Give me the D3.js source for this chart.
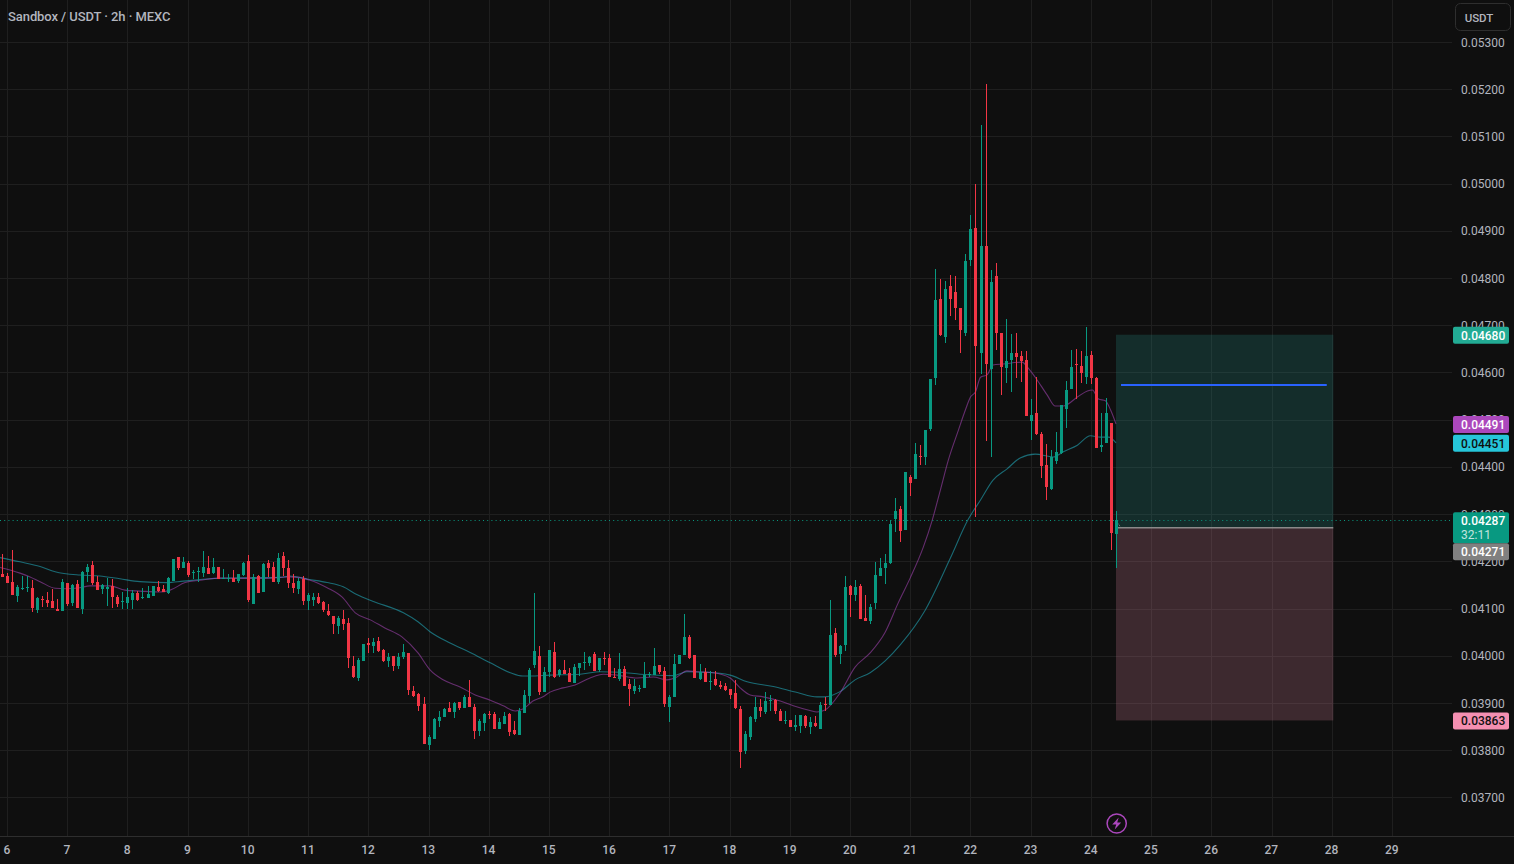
<!DOCTYPE html>
<html><head><meta charset="utf-8">
<style>html,body{margin:0;padding:0;background:#0f0f0f;overflow:hidden}svg{display:block}text{font-family:Roboto,sans-serif}</style>
<script src="https://cdn.jsdelivr.net/npm/d3@7"></script>
</head><body><svg id="c" width="1514" height="864"></svg>
<script>
// prices are in units of 0.00001 USDT
const title = "Sandbox / USDT · 2h · MEXC";
const dayTicks = d3.range(6, 30);
const priceTicks = d3.range(3700, 5301, 100);
const firstCandleDay = 6 - 1/12;
// [open, high, low, close]
const ohlc = [
[4173,4216,4166,4166],[4169,4175,4154,4154],[4156,4224,4129,4129],[4127,4150,4114,4146],[4141,4169,4139,4143],[4144,4168,4135,4146],[4144,4161,4093,4101],[4097,4124,4091,4122],[4120,4127,4103,4118],[4118,4135,4103,4112],
[4116,4141,4101,4101],[4099,4120,4095,4095],[4095,4163,4095,4156],[4154,4154,4106,4110],[4112,4152,4106,4150],[4152,4161,4101,4101],[4099,4180,4089,4178],[4178,4194,4156,4188],[4192,4201,4150,4154],[4156,4169,4139,4139],
[4141,4152,4131,4150],[4141,4165,4106,4146],[4148,4163,4101,4125],[4125,4129,4103,4110],[4115,4135,4099,4116],[4112,4144,4099,4125],[4118,4139,4099,4133],[4133,4137,4117,4118],[4122,4144,4121,4125],[4122,4148,4122,4131],
[4127,4148,4127,4148],[4146,4158,4135,4137],[4141,4150,4135,4135],[4133,4167,4131,4165],[4158,4205,4158,4205],[4209,4209,4182,4186],[4186,4209,4186,4199],[4197,4201,4167,4171],[4175,4182,4163,4178],[4178,4188,4156,4180],
[4175,4222,4167,4188],[4186,4211,4173,4173],[4175,4207,4173,4188],[4188,4188,4163,4163],[4163,4184,4163,4165],[4163,4173,4156,4165],[4165,4182,4156,4156],[4158,4173,4154,4173],[4171,4199,4169,4197],[4201,4214,4114,4118],
[4110,4173,4110,4167],[4169,4171,4133,4133],[4135,4197,4135,4194],[4197,4203,4167,4186],[4188,4199,4156,4156],[4156,4218,4152,4207],[4211,4220,4169,4186],[4186,4203,4144,4154],[4154,4173,4133,4144],[4142,4165,4131,4159],
[4163,4169,4108,4116],[4116,4133,4097,4129],[4118,4133,4106,4125],[4125,4133,4110,4112],[4114,4116,4093,4097],[4095,4110,4084,4086],[4084,4084,4046,4067],[4063,4084,4046,4080],[4078,4097,4055,4067],[4070,4080,3974,3995],
[3978,3999,3953,3955],[3953,3995,3947,3991],[3989,4025,3989,4025],[4027,4038,4006,4023],[4021,4038,4006,4029],[4031,4040,4008,4010],[4012,4014,3987,3989],[3989,4006,3976,3998],[4000,4000,3968,3978],[3978,4006,3972,3998],
[3998,4025,3993,4008],[4006,4006,3917,3928],[3926,3936,3913,3915],[3919,3921,3883,3894],[3898,3913,3813,3813],[3811,3832,3801,3828],[3824,3868,3824,3866],[3862,3883,3849,3870],[3870,3889,3870,3887],[3889,3902,3881,3881],
[3881,3902,3868,3900],[3902,3902,3885,3889],[3889,3917,3889,3913],[3913,3949,3892,3892],[3892,3898,3824,3841],[3841,3866,3830,3862],[3858,3879,3841,3877],[3877,3883,3866,3875],[3877,3881,3845,3845],[3845,3868,3845,3860],
[3856,3881,3856,3873],[3877,3879,3830,3839],[3843,3862,3832,3834],[3832,3889,3832,3883],[3879,3928,3879,3917],[3915,3974,3900,3970],[3981,4133,3974,4010],[4000,4021,3917,3923],[3923,3976,3923,3966],[3966,4012,3955,4012],
[4008,4029,3953,3955],[3959,3972,3955,3970],[3970,3991,3961,3961],[3964,3974,3945,3945],[3942,3983,3942,3976],[3974,3985,3957,3985],[3985,4008,3970,3987],[3985,4000,3978,3997],[4004,4008,3968,3968],[3970,3995,3966,3995],
[3995,4008,3981,3993],[3995,4004,3955,3955],[3955,3974,3953,3953],[3951,4006,3947,3972],[3972,3978,3936,3936],[3940,3951,3894,3930],[3925,3951,3919,3936],[3930,3938,3923,3932],[3932,3987,3932,3959],[3959,3966,3955,3961],
[3959,4017,3959,3978],[3981,3981,3961,3966],[3968,3976,3892,3898],[3892,3917,3860,3913],[3913,4004,3913,3983],[3983,4002,3983,4002],[4002,4089,4002,4040],[4040,4044,3993,3995],[4002,4002,3953,3953],[3951,3983,3949,3966],
[3966,3974,3945,3945],[3945,3968,3928,3947],[3951,3968,3936,3938],[3938,3947,3930,3934],[3936,3942,3925,3928],[3930,3930,3909,3917],[3921,3949,3887,3889],[3887,3894,3762,3796],[3798,3841,3792,3834],[3828,3873,3822,3870],
[3866,3913,3860,3892],[3892,3909,3870,3883],[3881,3923,3877,3904],[3904,3917,3883,3906],[3906,3909,3877,3883],[3883,3887,3862,3862],[3862,3883,3856,3864],[3864,3864,3849,3849],[3849,3875,3841,3853],[3851,3875,3837,3875],
[3873,3875,3847,3851],[3849,3870,3834,3860],[3858,3873,3849,3851],[3845,3902,3845,3896],[3898,3913,3883,3896],[3896,4118,3896,4044],[4048,4059,3997,4002],[4004,4023,3983,4021],[4023,4169,4010,4146],[4148,4150,4082,4129],
[4129,4161,4116,4146],[4148,4152,4078,4078],[4080,4129,4074,4074],[4074,4110,4067,4103],[4112,4199,4099,4171],[4169,4207,4169,4186],[4186,4216,4152,4197],[4197,4288,4195,4279],[4290,4334,4262,4307],[4311,4317,4241,4264],
[4266,4389,4266,4389],[4379,4383,4339,4366],[4374,4451,4374,4427],[4423,4447,4404,4421],[4421,4478,4404,4478],[4480,4586,4476,4586],[4588,4819,4573,4754],[4756,4798,4677,4679],[4675,4794,4662,4777],[4783,4806,4720,4756],
[4770,4804,4711,4737],[4737,4737,4641,4690],[4684,4851,4677,4836],[4838,4933,4825,4904],[4906,4999,4294,4656],[4641,5124,4597,4868],[4868,5211,4455,4618],[4607,4817,4421,4792],[4804,4832,4648,4684],[4684,4684,4552,4612],
[4609,4713,4578,4624],[4626,4681,4559,4641],[4641,4684,4588,4633],[4635,4645,4580,4624],[4627,4646,4508,4508],[4497,4544,4457,4510],[4514,4591,4468,4470],[4470,4474,4377,4402],[4404,4449,4330,4358],[4353,4436,4351,4421],
[4413,4474,4406,4432],[4430,4531,4427,4531],[4523,4582,4483,4563],[4565,4648,4565,4612],[4618,4650,4544,4616],[4614,4646,4578,4599],[4591,4696,4576,4635],[4637,4646,4576,4588],[4588,4591,4440,4440],[4442,4514,4432,4447],
[4451,4546,4451,4514],[4493,4493,4224,4260],[4258,4307,4186,4287]
];
// moving averages: [candle index, price]
const maFast = [[-0.4,4187],[3.6,4175],[5.6,4167],[7.6,4157],[10.6,4143],[12.6,4142],[15.5,4144],[17.5,4148],[21.5,4148],[24.5,4139],[27.5,4137],[31.5,4135],[33.5,4139],[36.5,4155],[39.5,4160],[43.5,4165],[47.4,4164],[52.8,4164],[55.4,4166],[57.4,4167],[61.4,4160],[64.8,4144],[67.8,4124],[70.4,4091],[73.4,4076],[76.3,4059],[79.7,4040],[82.9,4006],[85.3,3970],[87.9,3949],[91.3,3934],[94.3,3917],[97.3,3906],[99.9,3894],[102.3,3883],[103.8,3887],[105.8,3904],[107.8,3913],[109.2,3923],[111.8,3932],[114.2,3938],[117.2,3953],[119.8,3961],[122.6,3959],[126.6,3953],[129.8,3955],[132.5,3949],[134.5,3955],[136.5,3968],[138.5,3966],[141.7,3964],[145.1,3953],[147.1,3932],[149.1,3917],[151.7,3913],[155.1,3904],[157.7,3894],[161,3884],[162.4,3881],[164,3885],[167,3921],[170,3976],[173,4006],[176,4050],[178.6,4112],[181,4165],[183.6,4230],[185.4,4288],[187,4351],[188.6,4415],[190.6,4478],[192,4521],[193,4548],[194,4559],[195,4590],[196.3,4595],[197.5,4616],[199.5,4618],[203.3,4622],[204.3,4612],[205.9,4590],[208.3,4552],[209.9,4529],[211.5,4529],[214.3,4548],[216.3,4561],[217.3,4563],[218.5,4544],[219.9,4540],[220.9,4521],[222,4491]];
const maSlow = [[-0.4,4208],[3.6,4199],[7.6,4189],[10.6,4178],[15.5,4171],[19.5,4169],[23.5,4163],[27.5,4157],[32.9,4155],[36.1,4158],[41.5,4163],[47.4,4165],[55.4,4166],[57.4,4169],[61,4162],[64.8,4155],[68,4146],[70.8,4129],[74,4115],[80,4091],[82.9,4072],[85.3,4051],[89.3,4027],[93.3,4007],[97.3,3985],[101.3,3964],[103.8,3957],[105.2,3957],[109.2,3959],[115.2,3961],[119.2,3966],[123.2,3965],[127.2,3961],[133.7,3958],[136.5,3966],[140.5,3965],[145.1,3959],[148.5,3945],[153.7,3935],[158.5,3922],[162.4,3913],[164,3913],[167,3924],[170,3949],[173,3964],[176,3989],[179,4023],[184,4097],[189,4207],[192.5,4288],[195,4330],[197.5,4372],[200.3,4396],[202.9,4419],[205.9,4427],[209.5,4421],[211.5,4432],[214.3,4446],[216.9,4466],[218.9,4463],[220.5,4463],[222,4451]];
const lastPrice = 4287, countdown = "32:11";
const target = 4680, entry = 4271, stop = 3863, toolLevel = 4573.5;
const toolStart = 222, toolEnd = 265.3, toolLevelStart = 223, toolLevelEnd = 264;
const badges = [
  {v:4680, bg:"#22ab94", fg:"#ffffff"},
  {v:4491, bg:"#ab47bc", fg:"#ffffff"},
  {v:4451, bg:"#26c6da", fg:"#0f0f0f"},
  {v:4287, bg:"#089981", fg:"#ffffff", sub:countdown},
  {v:4271, bg:"#808080", fg:"#ffffff"},
  {v:3863, bg:"#f48fb1", fg:"#0f0f0f"}
];

const W = 1514, H = 864, plotR = 1452, plotB = 836;
const UP = "#089981", DOWN = "#f23645", TXT = "#b2b5be", GRID = "#1f1f1f";
const svg = d3.select("#c");
svg.append("rect").attr("width",W).attr("height",H).attr("fill","#0f0f0f");
const x = d3.scaleLinear().domain([6,29]).range([7,1392]);
const y = d3.scaleLinear().domain([3700,5300]).range([797.4,42]);
const fmt = v => (v/1e5).toFixed(5);
const cx = i => x(firstCandleDay + i/12);

// axes & grid
const gx = svg.append("g").attr("transform",`translate(-0.7,${plotB})`)
  .call(d3.axisBottom(x).tickValues(dayTicks).tickFormat(d3.format("d")).tickSize(0).tickPadding(9));
gx.select(".domain").remove();
gx.selectAll("text").attr("fill",TXT).attr("font-size",12).attr("font-weight",500).style("font-family","Roboto");
const grid = svg.append("g").attr("shape-rendering","crispEdges");
grid.selectAll(".v").data(dayTicks).join("line").attr("x1",d=>Math.round(x(d))+.5).attr("x2",d=>Math.round(x(d))+.5).attr("y1",0).attr("y2",plotB).attr("stroke",GRID);
grid.selectAll(".h").data(priceTicks).join("line").attr("y1",d=>Math.round(y(d))+.5).attr("y2",d=>Math.round(y(d))+.5).attr("x1",0).attr("x2",plotR).attr("stroke",GRID);
svg.append("line").attr("x1",0).attr("x2",W).attr("y1",plotB+.5).attr("y2",plotB+.5).attr("stroke","#2e2e2e").attr("shape-rendering","crispEdges");
const gy = svg.append("g").attr("transform",`translate(${plotR},0.2)`)
  .call(d3.axisRight(y).tickValues(priceTicks).tickFormat(fmt).tickSize(0).tickPadding(9));
gy.select(".domain").remove();
gy.selectAll("text").attr("fill",TXT).attr("font-size",12).style("font-family","Roboto");

// position tool
const tool = svg.append("g");
const tx0 = cx(toolStart), tx1 = cx(toolEnd);
tool.append("rect").attr("x",tx0).attr("width",tx1-tx0).attr("y",y(target)).attr("height",y(entry)-y(target)).attr("fill","#26a69a").attr("fill-opacity",.2);
tool.append("rect").attr("x",tx0).attr("width",tx1-tx0).attr("y",y(entry)).attr("height",y(stop)-y(entry)).attr("fill","#f48fb1").attr("fill-opacity",.2);
tool.append("line").attr("x1",tx0).attr("x2",tx1).attr("y1",y(entry)).attr("y2",y(entry)).attr("stroke","#8a8a8a").attr("stroke-width",1.5);
tool.append("line").attr("x1",cx(toolLevelStart)).attr("x2",cx(toolLevelEnd)).attr("y1",y(toolLevel)).attr("y2",y(toolLevel)).attr("stroke","#2962ff").attr("stroke-width",2);
tool.append("line").attr("x1",tx0).attr("x2",cx(toolStart+1)).attr("y1",y(lastPrice)).attr("y2",y(entry)).attr("stroke","#8a8a8a").attr("stroke-dasharray","1 1");

// moving averages
const line = d3.line().x(d=>cx(d[0])).y(d=>y(d[1])).curve(d3.curveMonotoneX);
svg.append("path").attr("d",line(maSlow)).attr("fill","none").attr("stroke","#26c6da").attr("stroke-opacity",.5).attr("stroke-width",1.1);
svg.append("path").attr("d",line(maFast)).attr("fill","none").attr("stroke","#ab47bc").attr("stroke-opacity",.55).attr("stroke-width",1.1);

// candles
const candles = svg.append("g").attr("shape-rendering","crispEdges");
const col = d => d[3] >= d[0] ? UP : DOWN;
candles.selectAll(".w").data(ohlc).join("rect")
  .attr("x",(d,i)=>Math.round(cx(i))).attr("width",1)
  .attr("y",d=>y(d[1])).attr("height",d=>Math.max(1,y(d[2])-y(d[1]))).attr("fill",col);
candles.selectAll(".b").data(ohlc).join("rect")
  .attr("x",(d,i)=>Math.round(cx(i))-1).attr("width",3)
  .attr("y",d=>y(Math.max(d[0],d[3]))).attr("height",d=>Math.max(1,Math.abs(y(d[0])-y(d[3])))).attr("fill",col);

// last price line
svg.append("line").attr("x1",0).attr("x2",plotR).attr("y1",Math.round(y(lastPrice))+.5).attr("y2",Math.round(y(lastPrice))+.5)
  .attr("stroke",UP).attr("stroke-dasharray","1 3.2").attr("stroke-width",1.2);

// header
svg.append("text").attr("x",8).attr("y",21).attr("fill",TXT).attr("font-size",13).attr("font-weight",500).attr("letter-spacing",-0.08).text(title);
svg.append("rect").attr("x",1455.5).attr("y",3.5).attr("width",55).attr("height",27).attr("rx",5).attr("fill","none").attr("stroke","#2e2e2e");
svg.append("text").attr("x",1479).attr("y",22).attr("text-anchor","middle").attr("fill",TXT).attr("font-size",11.5).attr("font-weight",500).text("USDT");

// badges: a label that would overlap the one above it slides down
let prevBottom = -Infinity;
const bg = svg.append("g");
badges.forEach(b => {
  const h = b.sub ? 31 : 17;
  let top = y(b.v) - 8;
  if (top < prevBottom) top = prevBottom;
  prevBottom = top + h;
  bg.append("rect").attr("x",1453).attr("y",top).attr("width",56).attr("height",h).attr("rx",2).attr("fill",b.bg);
  bg.append("text").attr("x",1461).attr("y",top+13).attr("fill",b.fg).attr("font-size",12).attr("font-weight",500).text(fmt(b.v));
  if (b.sub) bg.append("text").attr("x",1461).attr("y",top+27).attr("fill",b.fg).attr("fill-opacity",.75).attr("font-size",12).text(b.sub);
});

// lightning marker
const mark = svg.append("g").attr("transform",`translate(${cx(toolStart)+.7},823.5)`);
mark.append("circle").attr("r",9.6).attr("fill","#0f0f0f").attr("stroke","#ab47bc").attr("stroke-width",1.5);
mark.append("path").attr("d","M2,-6 L-4.5,1 H-0.5 L-2,6 L4.5,-1 H0.5 Z").attr("fill","#ab47bc");
</script></body></html>
